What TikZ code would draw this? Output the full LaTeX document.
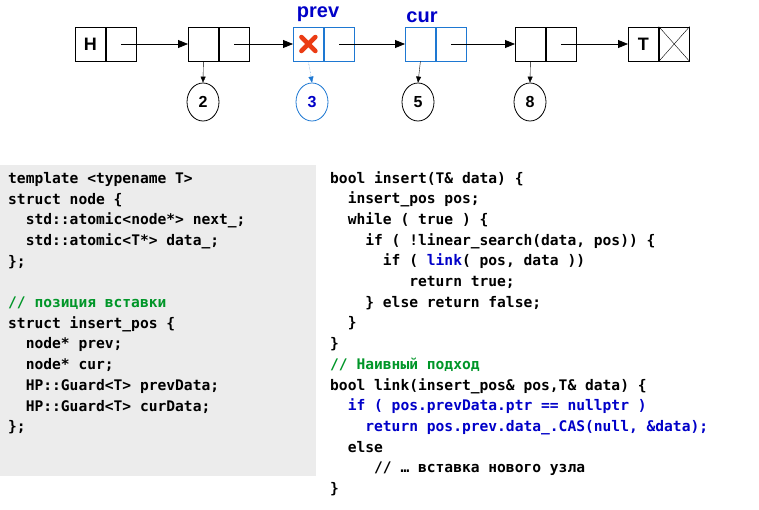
\documentclass[tikz,border=0pt]{standalone}
\usepackage{fontspec}
\setmainfont{Liberation Sans}
\newfontfamily\codef{DejaVu Sans Mono}
\usetikzlibrary{arrows.meta,shapes.geometric}
\definecolor{cblue}{RGB}{0,0,200}
\definecolor{lblue}{RGB}{30,120,210}
\definecolor{cgreen}{RGB}{0,150,40}
\definecolor{panel}{RGB}{236,236,236}
\definecolor{xred}{RGB}{235,60,20}
\begin{document}
\begin{tikzpicture}[x=1pt,y=-1pt,
  cell/.style={draw,thick,minimum width=30pt,minimum height=34pt,inner sep=0pt,font=\bfseries\fontsize{18}{18}\selectfont},
  val/.style={draw,thick,ellipse,minimum width=32pt,minimum height=38pt,inner sep=0pt,font=\bfseries\fontsize{16}{16}\selectfont},
  lnk/.style={-{Triangle[length=10pt,width=8pt]},thick},
  dn/.style={-{Triangle[length=6pt,width=5pt]}},
  code/.style={anchor=north west,align=left,inner sep=0pt,font=\codef\bfseries\fontsize{14.6}{20.7}\selectfont}]
\useasboundingbox (0,0) rectangle (759,509);
% nodes
\node[cell,anchor=west] (h1) at (75,44) {H};
\node[cell,anchor=west] (h2) at (h1.east) {};
\node[cell,anchor=west] (a1) at (188,44) {};
\node[cell,anchor=west] (a2) at (a1.east) {};
\node[cell,anchor=west,draw=lblue] (p1) at (293,44) {};
\node[cell,anchor=west,draw=lblue] (p2) at (p1.east) {};
\draw[xred,line width=4.5pt,line cap=round] ([shift={(-7,-7)}]p1.center) -- ([shift={(7,7)}]p1.center) ([shift={(-7,7)}]p1.center) -- ([shift={(7,-7)}]p1.center);
\node[cell,anchor=west,draw=lblue] (c1) at (405,44) {};
\node[cell,anchor=west,draw=lblue] (c2) at (c1.east) {};
\node[cell,anchor=west] (b1) at (515,44) {};
\node[cell,anchor=west] (b2) at (b1.east) {};
\node[cell,anchor=west] (t1) at (628,44) {T};
\node[cell,anchor=west] (t2) at (t1.east) {};
\draw (t2.north west) -- (t2.south east) (t2.south west) -- (t2.north east);
\node[font=\bfseries\fontsize{20}{20}\selectfont,text=cblue] (lp) at (318,14) {prev};
\node[font=\bfseries\fontsize{20}{20}\selectfont,text=cblue] (lc) at (422,17) {cur};
\draw[lnk] (h2.center) -- (a1.west);
\draw[lnk] (a2.center) -- (p1.west);
\draw[lnk] (p2.center) -- (c1.west);
\draw[lnk] (c2.center) -- (b1.west);
\draw[lnk] (b2.center) -- (t1.west);
\node[val] (v2) at (203,102) {2};
\node[val,draw=lblue,text=cblue] (v3) at (312,102) {3};
\node[val] (v5) at (418,102) {5};
\node[val] (v8) at (530,102) {8};
\draw[dn] (a1.south) -- (v2.north);
\draw[dn,densely dotted,lblue] (p1.south) -- (v3.north);
\draw[dn] (c1.south) -- (v5.north);
\draw[dn] (b1.south) -- (v8.north);
% code
\fill[panel] (0,165) rectangle (316,476);
\node[code] (left) at (8,172) {template <typename T>\\
struct node \{\\
\ \ std::atomic<node*> next\_;\\
\ \ std::atomic<T*> data\_;\\
\};\\
\mbox{}\\
\textcolor{cgreen}{// позиция вставки}\\
struct insert\_pos \{\\
\ \ node* prev;\\
\ \ node* cur;\\
\ \ HP::Guard<T> prevData;\\
\ \ HP::Guard<T> curData;\\
\};};
\node[code] (right) at (330,171) {bool insert(T\& data) \{\\
\ \ insert\_pos pos;\\
\ \ while ( true ) \{\\
\ \ \ \ if ( !linear\_search(data, pos)) \{\\
\ \ \ \ \ \ if ( \textcolor{cblue}{link}( pos, data ))\\
\ \ \ \ \ \ \ \ \ return true;\\
\ \ \ \ \} else return false;\\
\ \ \}\\
\}\\
\textcolor{cgreen}{// Наивный подход}\\
bool link(insert\_pos\& pos,T\& data) \{\\
\ \ \textcolor{cblue}{if ( pos.prevData.ptr == nullptr )}\\
\ \ \ \ \textcolor{cblue}{return pos.prev.data\_.CAS(null, \&data);}\\
\ \ else\\
\ \ \ \ \ // … вставка нового узла\\
\}};
\end{tikzpicture}
\end{document}
